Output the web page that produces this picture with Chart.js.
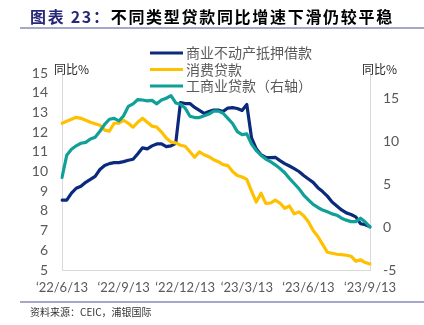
<!DOCTYPE html>
<html>
<head>
<meta charset="utf-8">
<script src="https://cdn.jsdelivr.net/npm/chart.js@4.4.0/dist/chart.umd.min.js"></script>
<style>
    html, body { margin: 0; padding: 0; background: #fff; }
    #wrap { width: 424px; height: 325px; }
</style>
</head>
<body>
<div id="wrap"><canvas id="chart" width="424" height="325"></canvas></div>
<script>
// Tick labels shown on the x axis (every 13 weeks)
const tickLabels = ['‘22/6/13', '‘22/9/13', '‘22/12/13', '‘23/3/13', '‘23/6/13', '‘23/9/13'];

// Series names
const seriesNames = ['商业不动产抵押借款', '消费贷款', '工商业贷款（右轴）'];

// 商业不动产抵押借款, YoY %, left axis
const commercialRE = [
    8.55, 8.55, 8.9, 9.15, 9.25, 9.45, 9.6, 9.75, 10.1, 10.3,
    10.4, 10.45, 10.45, 10.5, 10.57, 10.62, 10.9, 11.2, 11.15, 11.3,
    11.4, 11.4, 11.26, 11.3, 11.43, 13.5, 13.45, 13.45, 13.25, 13.1,
    12.95, 13.04, 13.12, 13.12, 13.05, 13.22, 13.24, 13.2, 13.1, 13.4,
    11.7, 11.15, 10.85, 10.72, 10.7, 10.72, 10.55, 10.4, 10.28, 10.15,
    10.0, 9.8, 9.62, 9.45, 9.18, 8.98, 8.75, 8.45, 8.25, 8.05,
    7.9, 7.82, 7.7, 7.35, 7.3, 7.2
];

// 消费贷款, YoY %, left axis
const consumer = [
    12.45, 12.55, 12.65, 12.75, 12.7, 12.6, 12.5, 12.42, 12.35, 12.1,
    12.05, 12.45, 12.45, 12.6, 12.45, 12.25, 12.5, 12.7, 12.5, 12.3,
    12.25, 12.0, 11.7, 11.5, 11.45, 11.33, 11.28, 11.0, 10.72, 11.0,
    10.85, 10.75, 10.6, 10.5, 10.35, 10.3, 10.0, 9.8, 9.72, 9.6,
    9.0, 8.45, 8.9, 8.38, 8.4, 8.55, 8.4, 8.13, 8.25, 7.85,
    7.95, 7.75, 7.45, 7.0, 6.7, 6.3, 5.9, 5.85, 5.8, 5.78,
    5.75, 5.7, 5.45, 5.52, 5.38, 5.3
];

// 工商业贷款, YoY %, right axis
const industrial = [
    5.8, 8.4, 9.1, 9.5, 9.8, 9.9, 10.3, 10.5, 11.2, 12.0,
    12.6, 12.7, 12.4, 13.0, 14.1, 14.4, 14.9, 14.85, 14.75, 14.8,
    14.4, 14.85, 15.05, 15.35, 14.5, 14.35, 13.9, 12.95, 12.8, 12.8,
    13.0, 13.2, 13.55, 13.55, 13.3, 12.7, 12.1, 11.15, 10.8, 10.9,
    9.7, 8.95, 8.4, 7.95, 7.65, 7.28, 6.85, 6.35, 5.7, 5.1,
    4.5, 3.75, 3.2, 2.65, 2.3, 2.0, 1.8, 1.55, 1.4, 1.05,
    0.82, 0.65, 0.65, 1.05, 0.6, 0.0
];

// Weekly dates starting 2022-06-13
const weeks = [];
for (let i = 0; i < commercialRE.length; i++) {
    const d = new Date(2022, 5, 13 + 7 * i);
    weeks.push(`${d.getFullYear() % 100}/${d.getMonth() + 1}/${d.getDate()}`);
}

const colors = ['#0b2a7c', '#ffc000', '#10a098'];
const gray = '#d9d9d9';
const tickColor = '#595959';

Chart.defaults.font.family = 'Lato, "Noto Sans CJK SC", sans-serif';

// Title, rules, legend, axis titles and source note
const decorations = {
    id: 'decorations',
    beforeDraw(chart) {
        const ctx = chart.ctx;
        ctx.save();
        ctx.fillStyle = '#fff';
        ctx.fillRect(0, 0, chart.width, chart.height);
        ctx.restore();
    },
    afterDraw(chart) {
        const ctx = chart.ctx;
        ctx.save();

        // title
        ctx.textBaseline = 'middle';
        ctx.textAlign = 'left';
        ctx.font = 'bold 16px "Noto Sans CJK SC"';
        ctx.letterSpacing = '1.7px';
        ctx.fillStyle = '#28287a';
        const head = '图表 23：';
        ctx.fillText(head, 30, 17);
        const w = ctx.measureText(head).width;
        ctx.fillStyle = '#000';
        ctx.fillText('不同类型贷款同比增速下滑仍较平稳', 30 + w, 17);
        ctx.letterSpacing = '0px';

        // rules
        ctx.strokeStyle = '#8a8ab8';
        ctx.lineWidth = 1.5;
        ctx.beginPath();
        ctx.moveTo(20, 28); ctx.lineTo(424, 28);
        ctx.moveTo(20, 302); ctx.lineTo(424, 302);
        ctx.stroke();

        // legend
        ctx.font = '14px "Noto Sans CJK SC"';
        ctx.lineWidth = 3;
        [53, 69.5, 86].forEach((y, i) => {
            ctx.strokeStyle = colors[i];
            ctx.beginPath();
            ctx.moveTo(150, y); ctx.lineTo(183, y);
            ctx.stroke();
            ctx.fillStyle = tickColor;
            ctx.fillText(seriesNames[i], 186, y);
        });

        // axis titles
        ctx.font = '12px "Noto Sans CJK SC"';
        ctx.fillStyle = '#262626';
        ctx.fillText('同比%', 54, 69);
        ctx.fillText('同比%', 362, 69);

        // source
        ctx.font = '10px "Noto Sans CJK SC"';
        ctx.fillStyle = '#333';
        ctx.fillText('资料来源：CEIC，浦银国际', 30, 312);

        ctx.restore();
    }
};

new Chart(document.getElementById('chart').getContext('2d'), {
    type: 'line',
    data: {
        labels: weeks,
        datasets: [
            { label: seriesNames[0], data: commercialRE, yAxisID: 'y', borderColor: colors[0], order: 3 },
            { label: seriesNames[1], data: consumer, yAxisID: 'y', borderColor: colors[1], order: 2 },
            { label: seriesNames[2], data: industrial, yAxisID: 'y1', borderColor: colors[2], order: 1 }
        ]
    },
    options: {
        responsive: false,
        animation: false,
        layout: { padding: { top: 73, left: 0, right: 0, bottom: 0 } },
        elements: {
            line: { borderWidth: 3.2, tension: 0, borderJoinStyle: 'round', borderCapStyle: 'round' },
            point: { radius: 0 }
        },
        plugins: {
            legend: { display: false },
            tooltip: { enabled: false }
        },
        scales: {
            x: {
                grid: { display: false, drawTicks: false },
                border: { color: gray },
                ticks: {
                    color: tickColor,
                    font: { size: 13 },
                    padding: 10,
                    autoSkip: false,
                    maxRotation: 0,
                    minRotation: 0,
                    callback: (value) => tickLabels[value / 13]
                },
                afterBuildTicks: (s) => { s.ticks = s.ticks.filter(t => t.value % 13 === 0); },
                afterFit: (s) => { s.height = 55; }
            },
            y: {
                position: 'left',
                min: 5,
                max: 15,
                grid: { display: false, drawTicks: false },
                border: { color: gray },
                ticks: { stepSize: 1, autoSkip: false, color: tickColor, font: { size: 14 }, padding: 14 },
                afterFit: (s) => { s.width = 62; }
            },
            y1: {
                position: 'right',
                min: -5,
                max: 18,
                grid: { display: false, drawTicks: false },
                border: { color: gray },
                ticks: { stepSize: 5, autoSkip: false, color: tickColor, font: { size: 14 }, padding: 13 },
                afterBuildTicks: (s) => { s.ticks = s.ticks.filter(t => t.value % 5 === 0); },
                afterFit: (s) => { s.width = 54; }
            }
        }
    },
    plugins: [decorations]
});
</script>
</body>
</html>
